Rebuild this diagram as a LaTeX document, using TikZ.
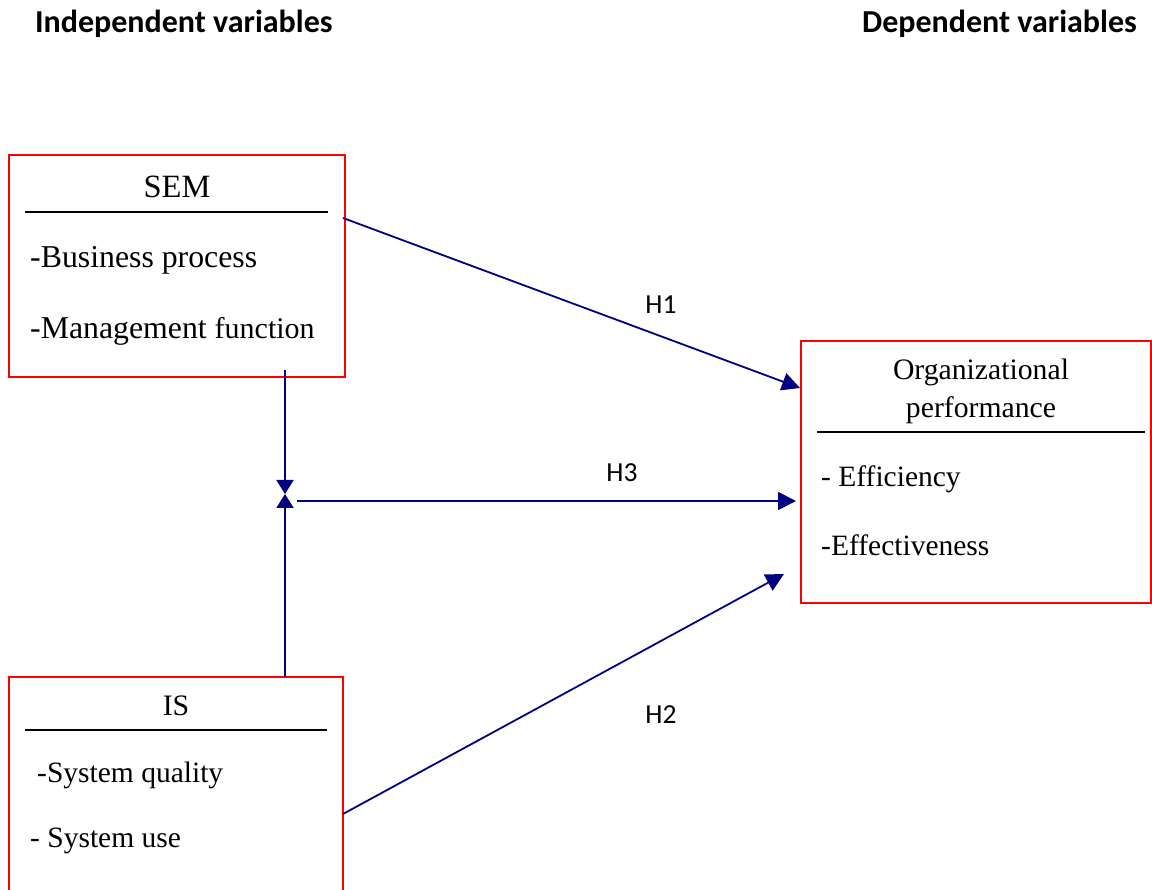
\documentclass[tikz,border=0pt]{standalone}
\usepackage{fontspec}
\setmainfont{Liberation Serif}
\newfontfamily\carlitofont{Carlito}
\usetikzlibrary{arrows.meta}
\definecolor{arrowblue}{RGB}{0,0,128}
\definecolor{boxred}{RGB}{255,0,0}
\begin{document}
\begin{tikzpicture}[x=1pt,y=-1pt,
  vbox/.style={draw=boxred,line width=1.6pt},
  rule/.style={draw=black,line width=1.8pt},
  body/.style={anchor=west,inner sep=0pt,font=\fontsize{29.5}{32}\selectfont},
  bigbody/.style={anchor=west,inner sep=0pt,font=\fontsize{31.8}{34}\selectfont},
  title/.style={inner sep=0pt,font=\fontsize{29.7}{38}\selectfont,align=center},
  head/.style={inner sep=0pt,font=\carlitofont\bfseries\fontsize{32}{34}\selectfont},
  hlab/.style={inner sep=0pt,font=\carlitofont\fontsize{27.5}{30}\selectfont},
  conn/.style={draw=arrowblue,line width=1.8pt,-{Triangle[width=18pt,length=18pt]}},
  meet/.style={draw=arrowblue,line width=1.8pt,-{Triangle[width=17pt,length=14pt]}}]
\useasboundingbox (0,0) rectangle (1152,890);
\node[head,anchor=west] (hind) at (35,24) {Independent variables};
\node[head,anchor=east] (hdep) at (1137,24) {Dependent variables};
% SEM box
\draw[vbox] (9,155) rectangle (345,377);
\node[title,font=\fontsize{32.5}{36}\selectfont] (semt) at (177,187) {SEM};
\draw[rule] (25,212) -- (328,212);
\node[bigbody] (sem1) at (30,260) {-Business process};
\node[bigbody] (sem2) at (30,331) {-Management {\fontsize{30}{34}\selectfont function}};
% Org box
\draw[vbox] (801,341) rectangle (1151,603);
\node[title] (orgt) at (981,391) {Organizational\\performance};
\draw[rule] (817,432) -- (1145,432);
\node[body] (org1) at (821,479) {- Efficiency};
\node[body] (org2) at (821,545) {-Effectiveness};
% IS box
\draw[vbox] (9,677) rectangle (343,900);
\node[title] (ist) at (176,706) {IS};
\draw[rule] (25,730) -- (327,730);
\node[body] (is1) at (37,775) {-System quality};
\node[body] (is2) at (30,841) {- System use};
% connector points
\coordinate (semout) at (343,218);
\coordinate (orgin1) at (800,388);
\coordinate (semdown) at (285,370);
\coordinate (isup) at (285,677);
\coordinate (mid) at (285,494);
\coordinate (h3s) at (297,501);
\coordinate (orgin3) at (796,501);
\coordinate (isout) at (343,814);
\coordinate (orgin2) at (784,574);
\draw[conn] (semout) -- (orgin1);
\draw[meet] (semdown) -- (mid);
\draw[meet] (isup) -- (mid);
\draw[conn] (h3s) -- (orgin3);
\draw[conn] (isout) -- (orgin2);
\node[hlab] (h1) at (661,305) {H1};
\node[hlab] (h3) at (622,473) {H3};
\node[hlab] (h2) at (661,715) {H2};
\end{tikzpicture}
\end{document}
